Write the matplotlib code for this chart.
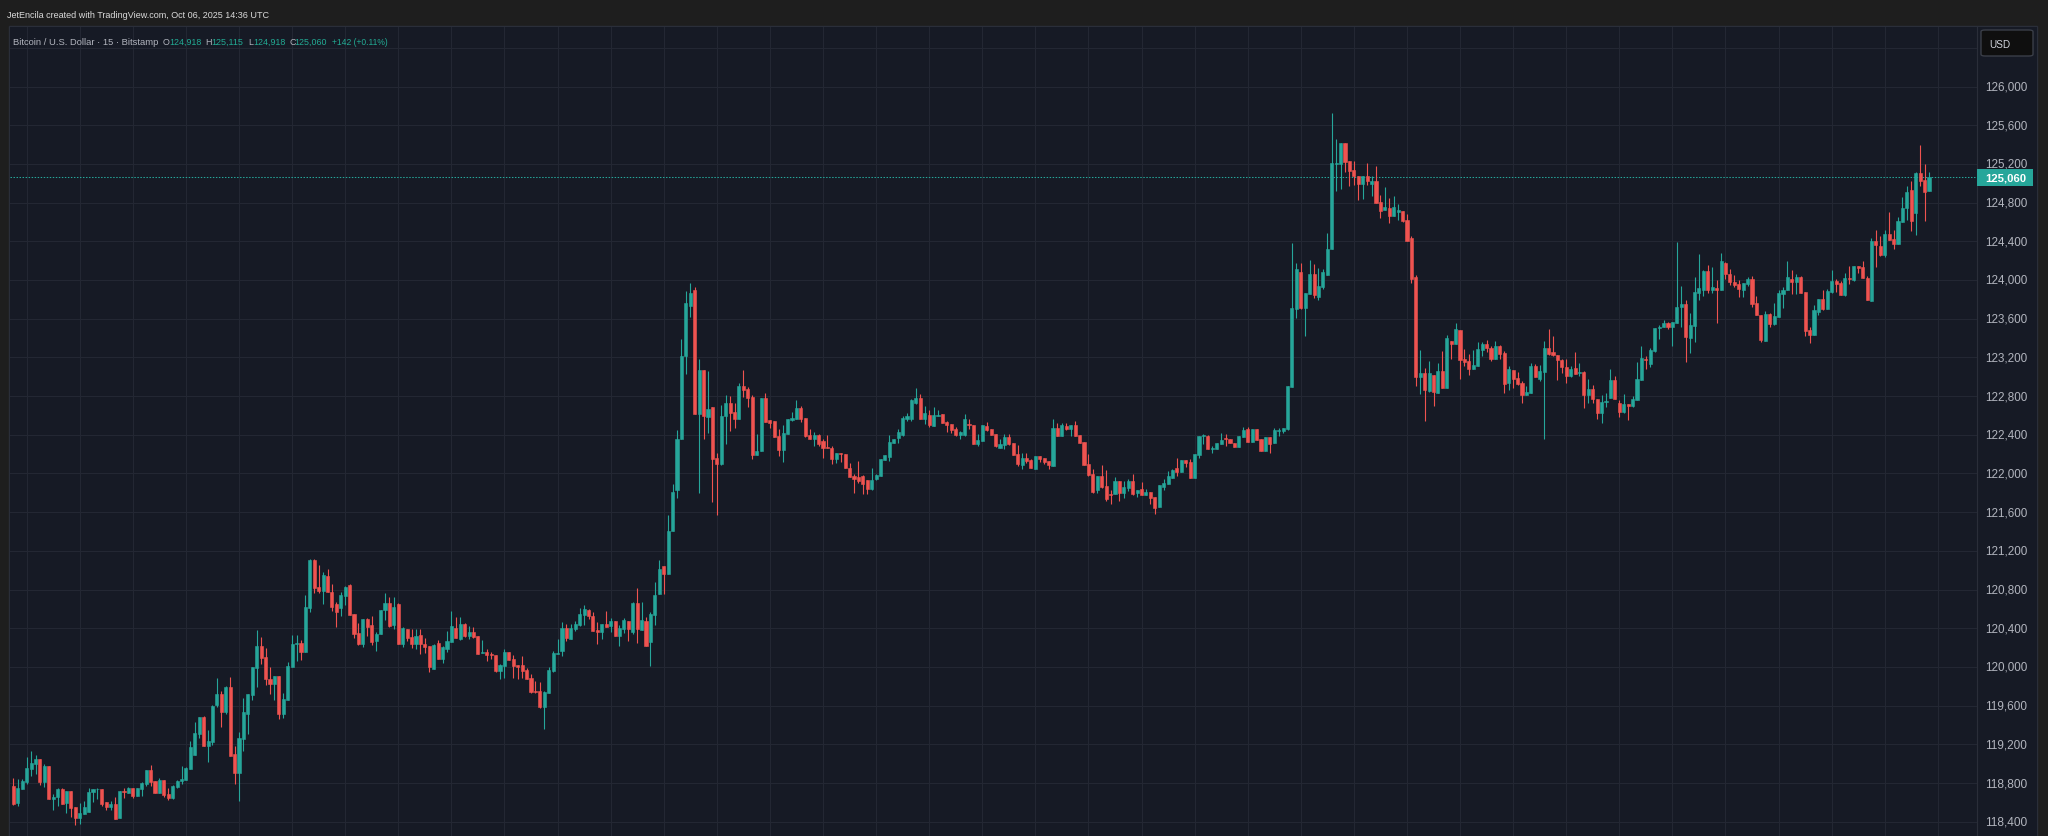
import matplotlib
matplotlib.use("Agg")
import matplotlib.pyplot as plt
from matplotlib import font_manager
from matplotlib.patches import Rectangle, FancyBboxPatch
import numpy as np

# ---------------- data (15-min BTC/USD candles) ----------------
opens = [118767,118598,118743,118815,118946,119001,119049,118815,118977,118639,118660,118736,118595,118719,118550,118440,118484,118505,118708,118736,
118736,118605,118553,118584,118440,118719,118698,118750,118667,118739,118791,118936,118822,118698,118832,118688,118646,118760,118822,118832,
118946,119091,119308,119483,119184,119225,119607,119721,119535,119794,119101,118905,119256,119514,119711,119990,120217,120104,119876,119825,
119907,119514,119659,120000,120241,120248,120158,120613,121106,120827,120789,120941,120775,120651,120610,120734,120848,120548,120351,120238,
120496,120434,120269,120341,120589,120662,120434,120651,120238,120393,120310,120238,120331,120238,120217,119979,120248,120083,120186,120258,
120403,120290,120444,120320,120362,120320,120145,120155,120134,120124,119958,120010,120155,120083,120021,120021,119969,119886,119752,119752,
119586,119731,119958,120134,120165,120403,120290,120393,120434,120537,120589,120527,120382,120362,120444,120424,120475,120320,120393,120475,
120362,120662,120382,120475,120258,120537,120754,121044,120961,121406,121833,122357,123214,123731,123897,122615,123070,122584,122687,122160,
122098,122594,122729,122636,122563,122904,122873,122791,122191,122233,122780,122553,122543,122388,122243,122408,122553,122563,122677,122574,
122398,122357,122398,122336,122274,122264,122150,122212,122202,122057,121974,121964,121974,121933,121840,121943,121974,122140,122171,122315,
122367,122398,122563,122563,122729,122780,122563,122605,122491,122594,122615,122532,122512,122460,122398,122398,122512,122501,122305,122336,
122491,122460,122408,122264,122295,122377,122315,122202,122088,122160,122140,122047,122181,122160,122129,122077,122470,122388,122491,122460,
122501,122398,122326,122098,121995,121829,121974,121871,121788,121788,121922,121798,121850,121922,121798,121840,121778,121809,121757,121654,
121860,121891,121953,122057,122015,122140,122119,121953,122191,122388,122388,122253,122253,122305,122367,122357,122315,122274,122377,122460,
122326,122460,122357,122232,122377,122315,122439,122439,122460,122894,123700,124083,123711,123855,124062,123824,123928,124052,124320,125199,
125199,125416,125230,125137,125075,124992,125075,124992,125023,124806,124724,124744,124661,124703,124713,124620,124434,124031,122997,123039,
122853,123018,122832,123059,122884,123370,123339,123483,123183,123163,123080,123111,123277,123339,123297,123183,123318,123245,122935,123070,
122987,122935,122811,122832,123111,122977,123049,123297,123256,123225,123173,123101,123008,123090,123039,123049,122811,122873,122770,122625,
122739,122780,122967,122729,122636,122718,122698,122760,122967,123183,123132,123266,123504,123514,123556,123514,123556,123721,123752,123401,
123525,123866,123897,124093,123897,123917,123897,124176,124062,123979,123959,123897,123959,124010,123762,123638,123370,123649,123545,123618,
123855,123897,124010,123979,124031,123876,123483,123432,123669,123804,123700,123876,123990,123969,123845,124021,124000,124145,124134,124021,
123783,124403,124351,124258,124476,124424,124372,124600,124744,124930,124693,125106,125034,124918]
highs = [118853,118843,118839,119070,119132,119091,119049,118998,118977,118688,118750,118746,118719,118719,118550,118595,118615,118750,118736,118753,
118736,118605,118615,118657,118719,118750,118760,118750,118750,118812,118936,118987,118822,118853,118832,118750,118781,118832,118977,118967,
119235,119432,119483,119494,119349,119607,119887,119752,119804,119897,119184,119328,119680,119721,120000,120383,120310,120197,120000,119907,
119907,119731,120052,120331,120331,120279,120744,121116,121116,121054,120982,121013,120858,120672,120775,120837,120858,120548,120455,120496,
120506,120527,120362,120589,120765,120724,120724,120662,120413,120393,120393,120393,120393,120300,120217,120238,120279,120217,120372,120579,
120517,120517,120455,120424,120413,120320,120279,120186,120155,120124,120031,120186,120155,120124,120021,120114,119990,119928,119855,119845,
119752,120000,120165,120289,120465,120444,120444,120475,120610,120641,120600,120568,120465,120444,120579,120506,120475,120434,120506,120475,
120672,120817,120672,120517,120568,120879,121106,121044,121571,121888,122450,123390,123886,123969,123928,123183,123070,123059,122687,122212,
122708,122812,122801,122729,122935,123070,122894,122812,122408,122780,122832,122553,122543,122460,122501,122563,122636,122760,122698,122574,
122460,122429,122408,122357,122398,122284,122212,122212,122202,122109,121995,122129,121984,121933,122057,121995,122150,122191,122398,122357,
122460,122594,122625,122770,122884,122822,122698,122656,122687,122656,122615,122543,122512,122481,122439,122615,122563,122501,122408,122501,
122532,122460,122408,122357,122408,122408,122315,122295,122212,122212,122150,122181,122181,122160,122129,122563,122522,122522,122522,122501,
122543,122398,122326,122201,122046,121974,122088,122036,121829,121964,121922,121922,121943,121995,121829,121912,121840,121809,121757,121881,
121943,122026,122046,122160,122140,122140,122150,122201,122388,122408,122398,122284,122315,122419,122408,122357,122315,122388,122481,122481,
122460,122460,122357,122377,122377,122470,122470,122470,122904,124382,124176,124176,123866,124207,124165,124124,124114,124486,125726,125457,
125416,125416,125230,125230,125075,125075,125209,125075,125178,124879,124961,124848,124868,124786,124713,124682,124455,124052,123277,123090,
123163,123018,123142,123266,123432,123370,123556,123483,123287,123235,123277,123359,123359,123380,123318,123370,123328,123266,123111,123070,
123049,122956,122904,123142,123132,123121,123370,123493,123421,123225,123183,123183,123111,123256,123142,123059,122977,122915,122770,122811,
122832,123080,123008,122760,122822,122718,122801,123152,123318,123214,123297,123504,123535,123587,123566,123566,124393,123938,123793,123659,
124031,124269,124103,124155,124134,124000,124279,124186,124114,124052,124000,123969,124031,124041,123835,123638,123680,123659,123762,123897,
123928,124196,124103,124062,124041,123876,123514,123742,123804,123897,123907,124103,124010,123990,124072,124145,124145,124145,124196,124041,
124434,124517,124455,124517,124703,124517,124651,124858,124972,125023,125116,125395,125199,125115]
lows = [118577,118567,118739,118791,118877,118898,118784,118763,118639,118526,118567,118588,118495,118453,118371,118381,118484,118505,118608,118639,
118567,118526,118526,118429,118440,118650,118698,118650,118667,118667,118770,118774,118698,118698,118660,118626,118636,118750,118791,118832,
118946,119091,119266,119184,119018,119194,119587,119380,119514,119080,118791,118615,119132,119308,119659,119794,120031,119814,119721,119659,
119463,119473,119659,120000,120062,120073,120155,120572,120765,120765,120651,120775,120579,120413,120527,120641,120537,120300,120227,120207,
120320,120227,120165,120341,120486,120413,120393,120238,120207,120269,120196,120186,120134,120145,119948,119979,120083,120041,120155,120258,
120300,120279,120310,120290,120300,120134,120145,120062,120083,119948,119876,119886,120072,119886,119876,119886,119876,119731,119731,119576,
119359,119731,119948,120134,120114,120269,120290,120372,120424,120434,120496,120372,120238,120290,120413,120362,120320,120217,120351,120269,
120341,120248,120382,120217,120010,120434,120754,120754,120961,121406,121750,122357,123028,123618,122615,121799,122357,122419,121705,121571,
122088,122305,122439,122470,122563,122791,122687,122150,122191,122233,122532,122470,122377,122181,122119,122408,122543,122563,122532,122377,
122357,122284,122284,122160,122264,122098,122109,122119,122057,121964,121799,121902,121788,121788,121830,121933,121974,122140,122129,122315,
122315,122388,122543,122543,122718,122563,122512,122481,122491,122594,122522,122429,122419,122388,122357,122388,122460,122305,122284,122336,
122439,122398,122274,122264,122253,122295,122191,122078,122047,122109,122057,122047,122119,122098,122047,122077,122388,122388,122450,122388,
122388,122315,122088,121974,121798,121798,121850,121716,121685,121788,121716,121747,121819,121778,121757,121778,121778,121685,121581,121654,
121829,121891,121953,121974,122015,122067,121953,121953,122160,122305,122253,122212,122253,122305,122284,122315,122274,122274,122377,122326,
122326,122346,122232,122232,122212,122315,122388,122419,122450,122894,123607,123700,123421,123855,123814,123793,123907,124052,124320,124920,
124941,125116,124972,124982,124827,124837,124982,124868,124796,124641,124724,124589,124661,124620,124600,124403,123969,122904,122822,122543,
122842,122698,122832,122884,122884,123183,123339,122977,123111,123018,123080,123111,123214,123256,123163,123183,123183,122832,122863,122884,
122915,122729,122811,122832,122997,122956,122357,123225,123214,122966,123039,122935,122997,123029,123008,122677,122729,122729,122563,122522,
122687,122780,122770,122584,122625,122553,122687,122760,122967,123080,123101,123256,123390,123514,123494,123318,123556,123514,123152,123246,
123359,123793,123835,123866,123866,123556,123897,124010,123948,123928,123824,123824,123938,123721,123638,123359,123370,123514,123535,123618,
123711,123897,123855,123855,123866,123421,123349,123432,123638,123690,123700,123866,123876,123845,123835,123959,123990,124072,124021,123793,
123783,124134,124248,124238,124413,124320,124372,124600,124620,124506,124465,124972,124610,124918]
closes = [118588,118750,118822,118956,119008,119049,118815,118977,118639,118657,118739,118588,118719,118546,118440,118491,118553,118708,118736,118739,
118588,118553,118584,118429,118719,118712,118750,118667,118750,118805,118936,118812,118698,118832,118677,118646,118770,118822,118843,118956,
119173,119318,119483,119184,119235,119597,119721,119535,119794,119080,118905,119266,119535,119721,120000,120217,120093,119876,119825,119907,
119514,119670,120011,120238,120248,120155,120620,121106,120817,120789,120951,120775,120620,120568,120744,120827,120537,120341,120238,120496,
120413,120258,120341,120589,120662,120424,120620,120238,120403,120300,120238,120320,120238,120207,120000,120227,120083,120207,120269,120424,
120300,120444,120320,120362,120310,120134,120155,120124,120124,119958,120021,120155,120072,120010,120000,119958,119876,119741,119741,119586,
119742,119969,120145,120145,120403,120300,120403,120444,120548,120600,120527,120372,120362,120444,120413,120475,120320,120403,120486,120393,
120662,120393,120486,120217,120548,120744,121013,120961,121406,121805,122357,123214,123762,123866,122615,123070,122594,122667,122150,122098,
122594,122729,122625,122563,122904,122863,122780,122191,122233,122780,122532,122522,122377,122243,122419,122563,122574,122677,122563,122388,
122357,122398,122305,122264,122264,122150,122212,122202,122057,121964,121943,121922,121891,121840,121933,121984,122150,122191,122326,122357,
122429,122574,122594,122760,122780,122563,122625,122501,122605,122605,122522,122501,122450,122398,122429,122563,122501,122305,122346,122501,
122450,122398,122284,122305,122377,122305,122191,122098,122160,122129,122057,122181,122150,122119,122088,122470,122388,122501,122460,122501,
122388,122315,122088,121985,121809,121974,121860,121736,121778,121922,121798,121860,121922,121788,121829,121778,121809,121747,121643,121881,
121902,121974,122036,122015,122140,122108,121953,122201,122388,122398,122253,122264,122315,122346,122357,122315,122274,122388,122450,122326,
122460,122346,122232,122377,122305,122450,122450,122470,122904,123711,124114,123711,123866,124062,123845,123938,124083,124320,125209,125209,
125416,125220,125127,125075,124992,125075,125023,125023,124796,124713,124755,124661,124755,124724,124610,124403,124010,122997,123039,122863,
123039,122842,123059,122884,123401,123339,123493,123173,123153,123080,123121,123287,123339,123297,123183,123318,123235,122925,123080,122977,
122925,122811,122842,123111,122997,123059,123297,123235,123225,123173,123101,123008,123080,123029,123049,122811,122873,122770,122625,122739,
122749,122967,122770,122636,122718,122698,122770,122977,123194,123173,123276,123504,123514,123556,123514,123566,123721,123752,123411,123535,
123876,123917,124093,123897,123928,123897,124196,124062,123979,123948,123907,123969,124010,123752,123638,123380,123649,123545,123628,123866,
123897,124031,123979,124031,123866,123473,123432,123690,123804,123700,123886,123990,123959,123845,124021,124010,124145,124124,124021,123793,
124403,124362,124258,124476,124413,124372,124610,124744,124910,124610,125106,125023,124910,125060]

price_ticks = list(range(118400, 126001, 400))
last_price = 125060
title_line = "JetEncila created with TradingView.com, Oct 06, 2025 14:36 UTC"
symbol_text = "Bitcoin / U.S. Dollar \u00b7 15 \u00b7 Bitstamp"
ohlc_letters = ["O", "H", "L", "C"]
ohlc_values = ["124,918", "125,115", "124,918", "125,060"]
change_text = "+142 (+0.11%)"
currency = "USD"

# ---------------- style ----------------
W, H = 2048, 837
BG_OUT = "#1e1e1e"
PANEL = "#161a25"
GRID = "#232733"
BORDER = "#2a2e39"
UP = "#26a69a"
DOWN = "#ef5350"
TXT = "#d1d4dc"
GRAY = "#b2b5be"
TEAL_TXT = "#22ab94"

names = {f.name for f in font_manager.fontManager.ttflist}
NARROW = "Liberation Sans Narrow" if "Liberation Sans Narrow" in names else "Liberation Sans"
SANS = "Liberation Sans"

fig = plt.figure(figsize=(W / 100, H / 100), dpi=100, facecolor=BG_OUT)

def fx(x):
    return x / W

def fy(y):
    return 1 - y / H

# panel background and border (behind the axes)
fig.patches.append(Rectangle((fx(9), 0), fx(2037) - fx(9), fy(27), transform=fig.transFigure,
                             facecolor=PANEL, edgecolor=BORDER, linewidth=1, zorder=-10))

ax_left, ax_right, ax_top = 10, 1976.5, 27.5
ax = fig.add_axes([fx(ax_left), 0, fx(ax_right) - fx(ax_left), fy(ax_top)])
ax.set_zorder(1)
ax.set_facecolor(PANEL)
for s in ax.spines.values():
    s.set_visible(False)

n = len(closes)
idx = np.arange(n)
o = np.array(opens, float); c = np.array(closes, float)
hi = np.array(highs, float); lo = np.array(lows, float)
cols = np.where(c >= o, UP, DOWN)

# axis scaling (candle i at px 13.4 + 4.424 i; price 126000 at px 87.5, 400 per 38.7 px)
step = 4.424
x0 = (ax_left - 13.4) / step
x1 = (ax_right - 13.4) / step
ppx = 400 / 38.7
ytop = 126000 + (87.5 - ax_top) * ppx
ybot = 126000 - (H - 87.5) * ppx

ax.set_xticks(np.arange(3, n + 12, 12))
ax.set_yticks(np.arange(118000, 127000, 400))
ax.set_xlim(x0, x1)
ax.set_ylim(ybot, ytop)
ax.grid(True, color=GRID, linewidth=0.75)
ax.set_axisbelow(True)
ax.tick_params(length=0, labelbottom=False, labelleft=False)

ax.vlines(idx, lo, hi, colors=cols, linewidth=0.8, zorder=3)
ax.bar(idx, np.abs(c - o), bottom=np.minimum(o, c), width=0.7, color=cols,
       edgecolor=cols, linewidth=0.4, zorder=4)

ax.axhline(last_price, color=UP, linewidth=0.75, linestyle=(0, (1.4, 1.5)), zorder=2)
ax.set_xlim(x0, x1)
ax.set_ylim(ybot, ytop)

# price scale
ax2 = fig.add_axes([fx(ax_right), 0, fx(2036.5) - fx(ax_right), fy(ax_top)])
ax2.set_zorder(1)
ax2.set_facecolor(PANEL)
ax2.set_xticks([]); ax2.set_yticks([])
ax2.set_xlim(0, 1)
ax2.set_ylim(ybot, ytop)
for k, s in ax2.spines.items():
    s.set_visible(k == "left")
ax2.spines["left"].set_color(BORDER)

renderer = fig.canvas.get_renderer()

def fit(t, width):
    w = t.get_window_extent(renderer).width
    t.set_fontsize(t.get_fontsize() * width / w)
    return t

xl = (1985.3 - ax_right) / (2036.5 - ax_right)
for p in price_ticks:
    t = ax2.text(xl, p, f"{p:,}", color=GRAY, fontsize=9, family=SANS, va="center", ha="left")
    fit(t, 42)

# last price label
lab_h = 17 * ppx
ax2.add_patch(Rectangle((0, last_price - lab_h / 2), (2033 - ax_right) / (2036.5 - ax_right), lab_h,
                        facecolor=UP, edgecolor="none", zorder=5))
t = ax2.text(xl, last_price, f"{last_price:,}", color="white", fontsize=9, family=SANS,
             fontweight="bold", va="center", ha="left", zorder=6)
fit(t, 41)

# USD button
fig.patches.append(FancyBboxPatch((fx(1981), fy(57)), fx(2033) - fx(1981), fy(31) - fy(57),
                                  boxstyle="round,pad=0,rounding_size=0.002", transform=fig.transFigure,
                                  facecolor="#0f0f0f", edgecolor="#3a3e48", linewidth=1, zorder=5))
t = fig.text(fx(1989), fy(44.5), currency, color=TXT, fontsize=8, family=SANS, va="center", ha="left", zorder=6)
fit(t, 21)

# header texts
t = fig.text(fx(7.3), fy(15), title_line, color="#dbdbdb", fontsize=8, family=NARROW, va="center", ha="left", zorder=6)
fit(t, 264)

t = fig.text(fx(13.3), fy(42.3), symbol_text, color=GRAY, fontsize=8, family=NARROW, va="center", ha="left", zorder=6)
fit(t, 145)
letter_x = [162.3, 205.0, 248.3, 289.3]
value_x = [169.0, 211.7, 253.3, 294.0]
for lx, vx, L, V in zip(letter_x, value_x, ohlc_letters, ohlc_values):
    tv = fig.text(fx(vx), fy(42.3), V, color=TEAL_TXT, fontsize=8, family=NARROW, va="center", ha="left", zorder=6)
    fit(tv, 32)
    fig.text(fx(lx), fy(42.3), L, color=GRAY, fontsize=tv.get_fontsize(), family=NARROW,
             va="center", ha="left", zorder=6)
t = fig.text(fx(331.7), fy(42.3), change_text, color=TEAL_TXT, fontsize=8, family=NARROW, va="center", ha="left", zorder=6)
fit(t, 56)

fig.savefig("out.png", dpi=100, facecolor=BG_OUT)
